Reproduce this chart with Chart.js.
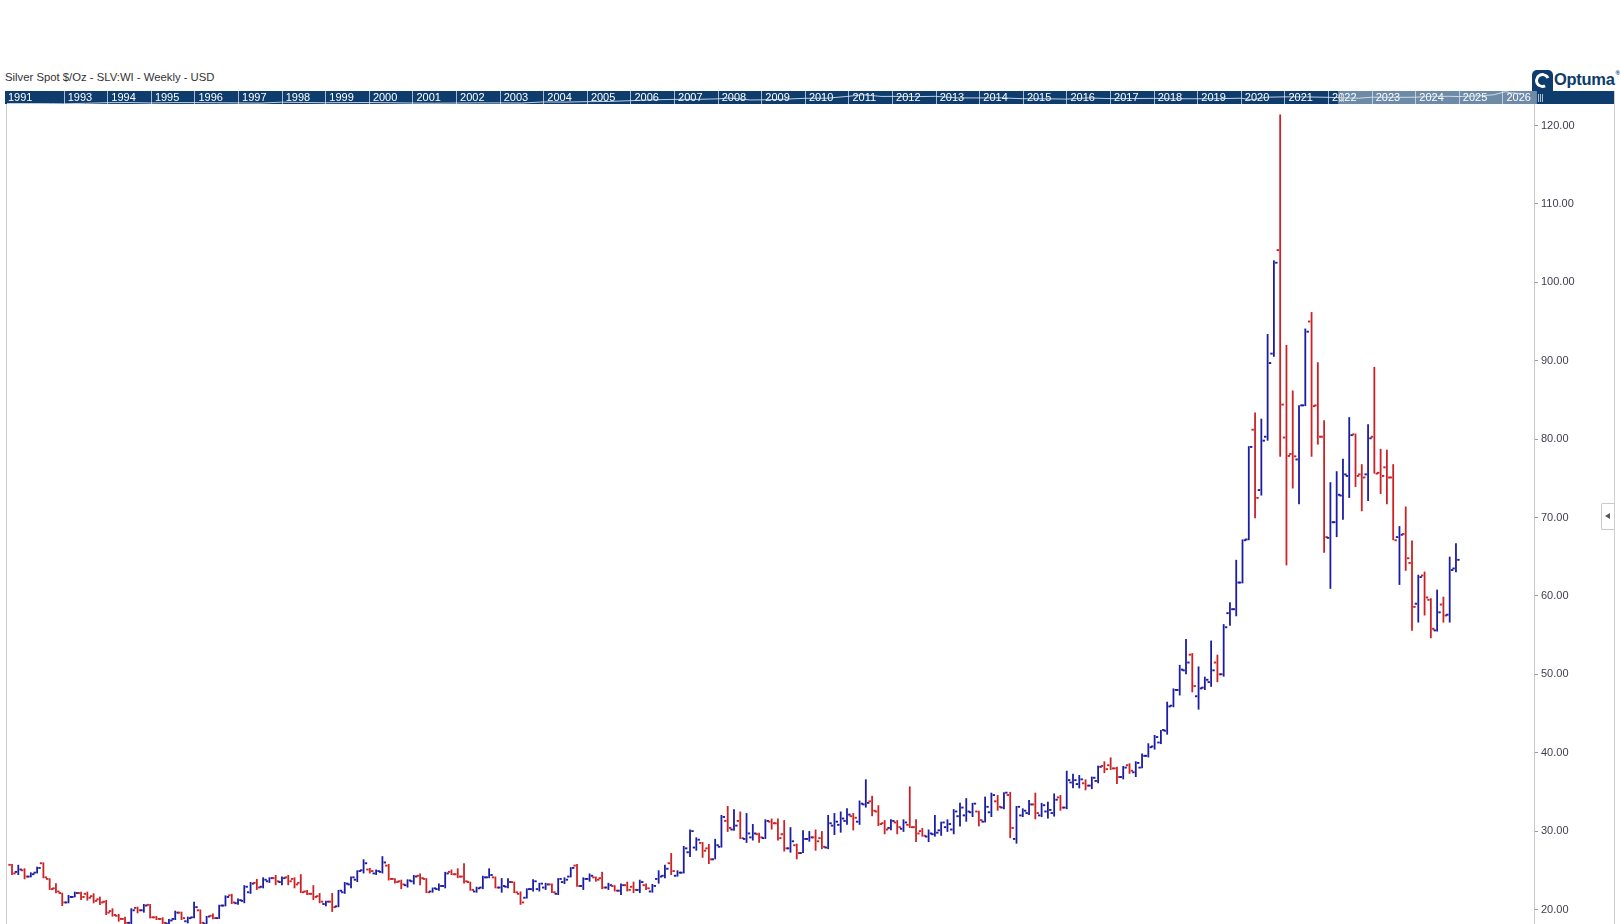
<!DOCTYPE html>
<html>
<head>
<meta charset="utf-8">
<script src="https://cdn.jsdelivr.net/npm/chart.js@4.4.1/dist/chart.umd.min.js"></script>
<style>
html,body{margin:0;padding:0;background:#fff;}
body{width:1620px;height:924px;position:relative;overflow:hidden;font-family:"Liberation Sans",Arial,sans-serif;}
#title{position:absolute;left:5px;top:70px;font-size:11.3px;line-height:14px;color:#333;white-space:nowrap;}
#navWrap{position:absolute;left:5px;top:91px;width:1609px;height:13px;}
#mainWrap{position:absolute;left:6px;top:104px;width:1594px;height:820px;}
#leftLine{position:absolute;left:6px;top:104px;width:1px;height:820px;background:#cfcfcf;}
#rightLine{position:absolute;left:1614px;top:91px;width:1px;height:833px;background:#cfcfcf;}
#btn{position:absolute;left:1601px;top:503px;width:12px;height:25px;border:1px solid #c9c9c9;border-right:none;background:#fff;border-radius:2px 0 0 2px;}
#btn:after{content:"";position:absolute;left:3px;top:9px;border-top:3.5px solid transparent;border-bottom:3.5px solid transparent;border-right:5px solid #555;}
#logoIcon{position:absolute;left:1532px;top:70px;width:21px;height:21px;background:#0d3c6d;border-radius:5px 5px 0 0;}
#logoIcon .ring{position:absolute;left:3px;top:3px;width:9px;height:9px;border:3px solid #fff;border-radius:50%;border-top-color:#fff;border-right-color:transparent;transform:rotate(20deg);}
#logoText{position:absolute;left:1554px;top:70px;font-size:16.5px;font-weight:bold;color:#0d3c6d;letter-spacing:-0.3px;}
#logoText sup{font-size:6px;vertical-align:top;margin-left:1px;}
</style>
</head>
<body>
<div id="title">Silver Spot $/Oz - SLV:WI - Weekly - USD</div>
<div id="logoIcon"><div class="ring"></div></div>
<div id="logoText">Optuma<sup>®</sup></div>
<div id="navWrap"><canvas id="nav" width="1609" height="13"></canvas></div>
<div id="leftLine"></div>
<div id="mainWrap"><canvas id="main" width="1594" height="820"></canvas></div>
<div id="rightLine"></div>
<div id="btn"></div>
<script>
// ---- Weekly OHLC values ----
const opens = [
25.7,24.8,25.0,24.2,24.7,25.9,23.9,22.7,22.1,20.9,
21.6,22.1,22.0,21.7,21.3,21.0,19.8,19.2,18.8,18.3,
20.2,19.9,20.6,19.0,18.8,18.2,18.8,19.6,18.5,19.0,
19.9,18.2,19.2,18.9,20.5,21.8,20.8,21.1,22.2,23.4,
22.9,23.6,24.0,23.5,24.1,23.9,23.4,22.3,22.0,21.7,
20.7,21.0,20.4,22.2,23.2,23.8,25.0,25.1,24.6,24.8,
25.6,23.9,23.6,23.1,23.6,24.3,23.9,22.3,22.6,23.0,
24.8,24.5,24.2,23.5,22.3,22.8,24.1,24.1,22.8,22.9,
23.5,22.0,21.5,22.6,22.6,22.8,23.2,22.0,23.5,24.2,
25.6,23.0,23.9,24.1,24.0,22.8,23.0,22.4,23.1,22.9,
22.5,23.1,22.3,23.9,24.3,25.9,24.3,24.7,27.3,27.9,
28.5,27.8,26.4,28.0,31.3,30.2,31.3,29.0,29.2,29.6,
29.1,31.2,31.0,29.6,27.8,28.2,27.2,29.0,29.2,29.1,
27.9,30.7,30.8,31.3,31.9,31.2,33.4,33.8,32.5,31.0,
30.4,31.1,30.3,30.8,30.5,30.0,29.3,29.6,30.1,30.5,
30.2,31.9,32.0,32.4,32.5,31.2,32.4,33.8,33.0,34.6,
29.0,32.0,32.3,33.4,32.0,32.5,32.3,34.3,33.0,36.2,
36.0,36.1,35.8,36.4,38.3,38.4,38.0,36.9,38.4,37.5,
38.1,39.6,40.8,41.3,42.8,46.0,48.0,50.5,52.5,47.2,
48.3,49.0,51.5,50.0,57.8,58.3,61.7,67.2,81.2,73.5,
80.3,90.9,104.1,80.2,78.1,77.4,84.3,95.0,84.3,80.3,
67.4,69.4,72.8,75.3,80.6,75.5,75.5,80.3,75.7,76.4,
75.1,67.5,67.9,64.2,59.0,62.6,59.5,55.6,58.9,57.6,
63.5];
const highs = [
25.8,25.7,25.25,24.74,25.46,26.0,23.98,23.34,22.15,21.85,
22.27,22.27,22.27,22.06,21.64,21.21,20.15,19.43,19.09,20.15,
20.36,20.7,20.7,19.17,19.0,18.8,19.85,19.72,19.09,21.0,
20.0,19.17,19.5,20.6,21.8,22.0,21.4,23.1,23.5,23.9,
24.1,24.1,24.4,24.2,24.4,24.1,24.5,22.5,23.1,22.1,
21.1,22.1,22.5,23.5,24.2,25.0,26.4,25.3,25.1,26.8,
25.8,24.0,23.8,23.85,24.4,24.6,24.0,22.8,23.3,24.8,
25.1,25.25,25.9,23.55,22.9,24.3,25.25,24.2,24.0,24.0,
23.55,22.3,22.7,23.85,23.4,23.4,23.3,24.0,24.1,25.4,
25.8,24.1,24.6,24.2,24.8,23.4,23.1,23.3,23.55,23.55,
23.8,23.3,23.25,25.0,25.7,27.2,25.0,28.1,30.2,29.2,
28.6,28.35,29.0,32.05,33.2,32.8,32.5,32.3,30.9,29.8,
31.5,31.6,31.6,31.4,30.5,28.4,30.1,30.0,30.2,30.0,
32.05,32.3,32.5,32.9,32.3,33.9,36.6,34.5,33.3,31.4,
31.5,31.4,31.5,35.7,31.5,30.4,30.2,32.05,31.2,31.5,
32.8,33.6,34.2,33.6,32.6,34.4,34.9,34.6,34.95,35.0,
33.2,32.9,33.97,34.9,33.6,33.75,34.8,34.6,37.7,37.3,
37.15,36.6,36.95,38.35,38.9,39.4,38.2,38.3,38.65,38.9,
39.9,41.2,42.26,42.9,46.5,48.2,51.2,54.5,52.7,51.0,
49.7,54.3,52.5,56.4,59.2,64.6,67.2,79.1,83.4,82.6,
93.4,102.8,121.4,92.0,86.2,84.3,94.1,96.2,89.8,82.4,
74.5,75.9,77.5,82.8,80.7,76.8,81.9,89.2,78.75,78.65,
76.8,68.9,71.4,67.06,62.7,63.1,59.7,60.8,59.9,65.0,
66.7];
const lows = [
24.4,24.4,23.85,24.1,24.6,23.98,22.49,22.06,20.45,20.79,
21.55,21.21,21.13,20.79,20.57,19.3,19.09,18.45,17.9,17.6,
19.51,19.6,18.87,18.66,18.0,17.9,18.66,18.66,18.23,18.87,
17.8,17.9,18.75,18.8,20.4,20.7,20.6,20.8,22.0,22.5,
22.7,23.4,23.1,23.1,23.1,22.7,22.1,21.85,21.2,20.8,
20.4,19.7,20.3,22.0,22.7,23.5,24.6,24.6,24.4,24.6,
23.7,23.3,22.6,22.8,23.2,23.1,22.1,22.15,22.4,22.7,
24.4,24.0,23.3,22.4,22.15,22.6,24.0,22.7,22.15,22.7,
22.1,20.6,21.4,22.3,22.3,22.5,22.1,21.85,23.25,24.1,
22.9,22.5,23.55,23.55,22.6,22.5,22.3,21.85,22.3,22.1,
22.1,22.5,22.15,23.3,24.0,24.4,24.2,24.6,26.7,27.5,
26.6,25.8,26.4,27.9,29.9,30.05,29.0,28.5,28.8,28.5,
29.0,30.2,28.8,27.4,27.25,26.4,27.2,28.65,27.5,27.7,
27.7,29.5,29.8,30.8,30.1,30.8,33.0,31.9,30.65,29.6,
30.1,29.6,29.9,30.4,28.6,29.3,28.6,29.3,29.4,29.9,
29.6,30.6,31.2,31.8,30.6,31.1,31.8,32.6,32.8,29.1,
28.4,31.8,32.05,31.5,31.8,31.6,31.85,32.6,32.8,35.45,
35.45,35.2,35.35,36.1,37.4,37.8,36.0,36.6,37.3,36.9,
38.0,39.4,40.4,41.1,42.3,45.8,47.3,50.0,47.7,45.5,
48.0,48.4,49.0,49.7,56.2,57.4,61.6,67.1,69.9,72.8,
79.8,90.5,77.75,63.9,73.7,71.7,84.2,77.75,79.3,65.5,
60.9,67.5,69.7,72.5,73.9,70.8,72.1,75.6,73.0,71.7,
67.1,61.4,63.2,55.55,56.6,57.5,54.6,55.45,56.6,56.6,
63.0];
const closes = [
24.6,25.1,24.2,24.5,25.3,24.1,22.6,22.3,20.9,21.6,
22.1,21.6,21.5,21.1,20.9,19.6,19.3,18.8,18.3,19.9,
19.9,20.5,19.0,18.8,18.3,18.6,19.6,18.9,18.9,20.3,
18.3,19.1,18.9,20.5,21.6,20.9,21.2,22.9,23.3,22.8,
23.8,24.0,23.6,24.0,23.6,23.2,22.2,22.0,21.6,21.0,
21.0,20.3,22.4,23.3,24.1,24.9,25.9,24.9,24.9,26.0,
23.9,23.5,23.2,23.7,24.2,24.0,22.2,22.7,23.0,24.6,
24.5,24.2,23.6,22.5,22.7,24.1,24.4,22.8,23.0,23.5,
22.2,20.9,22.6,23.6,23.3,23.2,22.2,23.9,23.8,25.3,
23.0,23.9,24.3,23.8,22.8,23.1,22.4,23.1,22.5,22.5,
23.5,22.7,23.0,24.2,25.2,24.9,24.7,27.8,30.0,28.9,
27.5,26.4,28.2,31.8,30.4,30.7,29.1,29.7,29.7,29.2,
31.3,31.0,29.1,27.8,28.7,27.2,29.0,29.2,28.7,28.0,
31.0,31.2,31.6,32.1,31.7,33.5,33.6,32.6,30.9,30.2,
31.3,30.5,31.1,30.5,29.7,29.4,29.7,29.8,31.1,30.9,
32.5,33.0,32.5,33.5,31.4,33.1,34.6,33.1,34.9,30.4,
33.1,32.6,33.4,32.3,33.3,32.7,34.0,33.0,36.5,36.5,
36.6,35.8,36.8,38.2,37.9,38.0,36.9,38.1,37.7,38.7,
39.6,40.7,42.0,42.9,45.9,48.0,50.6,51.5,48.5,48.2,
49.3,50.5,50.0,56.0,58.3,61.7,67.1,79.0,72.5,79.8,
89.7,102.5,84.4,77.85,77.8,84.3,93.7,84.2,80.3,67.5,
69.4,72.9,75.5,80.5,75.3,75.1,80.1,75.6,75.3,75.1,
67.1,67.8,64.8,58.6,62.4,59.8,55.8,57.9,57.5,63.3,
64.6];
const weekIndex = opens.map((_, i) => i);   // category: week number in the view

// y-axis tick values
const yTicks = [20, 30, 40, 50, 60, 70, 80, 90, 100, 110, 120];

// ---- navigator (full history strip) ----
const navYears = [1991,1993,1994,1995,1996,1997,1998,1999,2000,2001,2002,2003,2004,2005,2006,2007,2008,2009,2010,2011,2012,2013,2014,2015,2016,2017,2018,2019,2020,2021,2022,2023,2024,2025,2026];
const navTimes  = [1991.7,1992.2,1992.7,1993.0,1993.5,1994.0,1994.5,1995.0,1995.5,1996.0,1996.5,1997.0,1997.5,1998.0,1998.5,1999.0,1999.5,2000.0,2000.5,2001.0,2001.5,2002.0,2002.5,2003.0,2003.5,2004.0,2004.5,2005.0,2005.5,2006.0,2006.5,2007.0,2007.5,2008.0,2008.25,2008.75,2009.0,2009.5,2010.0,2010.5,2011.0,2011.33,2011.75,2012.0,2012.5,2013.0,2013.5,2014.0,2014.5,2015.0,2015.5,2016.0,2016.5,2017.0,2017.5,2018.0,2018.5,2019.0,2019.5,2020.0,2020.25,2020.6,2021.0,2021.5,2022.0,2022.7,2023.0,2023.5,2024.0,2024.4,2024.8,2025.0,2025.5,2025.8,2026.07,2026.2,2026.5];
const navPrices = [4.0,4.0,3.9,3.7,4.3,5.1,5.3,4.7,5.2,5.2,5.0,4.8,4.5,5.9,5.4,5.0,5.2,5.3,5.0,4.6,4.4,4.6,4.8,4.8,4.6,6.3,6.0,6.8,7.2,9.0,11.5,12.9,13.0,15.0,19.0,11.0,11.3,13.5,17.6,18.0,30.9,48.0,30.0,30.4,28.0,30.9,19.5,19.6,20.0,15.6,15.5,14.0,19.5,16.2,16.5,17.2,15.5,15.5,16.0,18.0,12.0,24.0,26.5,26.0,23.3,18.0,23.9,23.0,23.8,31.0,31.0,29.0,36.0,48.0,115.0,80.0,65.0];
const navWindow = [2022.23, 2026.79];

// ---- styles ----
const UP = '#1c1ca4';
const DOWN = '#cc2226';
const TICK_HALF = 0.12;   // half height of open/close ticks in price units

const barColor = (ctx) => closes[ctx.dataIndex] >= opens[ctx.dataIndex] ? UP : DOWN;

const common = {
  backgroundColor: barColor,
  borderWidth: 0,
  inflateAmount: 0,
  grouped: true
};

new Chart(document.getElementById('main').getContext('2d'), {
  type: 'bar',
  data: {
    datasets: [
      Object.assign({ label: 'Open', barThickness: 2.4,
        data: weekIndex.map(i => ({ x: i, y: [opens[i] - TICK_HALF, opens[i] + TICK_HALF] })) }, common),
      Object.assign({ label: 'High-Low', barThickness: 1.8,
        data: weekIndex.map(i => ({ x: i, y: [lows[i], highs[i]] })) }, common),
      Object.assign({ label: 'Close', barThickness: 2.4,
        data: weekIndex.map(i => ({ x: i, y: [closes[i] - TICK_HALF, closes[i] + TICK_HALF] })) }, common)
    ]
  },
  options: {
    responsive: false,
    animation: false,
    events: [],
    layout: { padding: 0, autoPadding: false },
    plugins: { legend: { display: false }, tooltip: { enabled: false } },
    scales: {
      x: {
        type: 'linear', display: false, bounds: 'data', offset: false,
        min: -0.956, max: 242.43,
        ticks: { includeBounds: false }, grid: { display: false }
      },
      y: {
        position: 'right', bounds: 'data', min: 18.15, max: 122.74,
        afterFit(s) { s.width = 66; s.paddingTop = 0; s.paddingBottom = 0; },
        afterBuildTicks(s) { s.ticks = yTicks.map(v => ({ value: v })); },
        border: { display: true, color: '#c8c8c8', width: 1 },
        grid: { drawOnChartArea: false, drawTicks: true, tickLength: 4, color: '#9a9a9a' },
        ticks: {
          padding: 3, color: '#3d3d50',
          font: { family: 'Liberation Sans', size: 11 },
          callback: v => Number(v).toFixed(2)
        }
      }
    }
  }
});

// navigator strip
const navPlugin = {
  id: 'navDecor',
  beforeDatasetsDraw(chart) {
    const ctx = chart.ctx, xs = chart.scales.x;
    const W = chart.width, H = chart.height;
    ctx.save();
    ctx.fillStyle = '#0d3c6d';
    ctx.fillRect(0, 0, W, H);
    const s0 = xs.getPixelForValue(navWindow[0]), s1 = xs.getPixelForValue(navWindow[1]);
    ctx.fillStyle = 'rgba(255,255,255,0.40)';
    ctx.fillRect(s0, 0, s1 - s0, H);
    ctx.font = '11px "Liberation Sans"';
    ctx.textBaseline = 'middle';
    navYears.forEach((y) => {
      let px = xs.getPixelForValue(y);
      if (px < 0) { px = -1; }
      else {
        ctx.fillStyle = 'rgba(220,228,240,0.75)';
        ctx.fillRect(Math.round(px), 0, 1, H);
      }
      ctx.fillStyle = '#ffffff';
      ctx.fillText(String(y), px + 4, H / 2 + 0.5);
    });
    ctx.restore();
  },
  afterDatasetsDraw(chart) {
    const ctx = chart.ctx, xs = chart.scales.x, H = chart.height;
    ctx.save();
    ctx.fillStyle = 'rgba(200,205,212,0.9)';
    navWindow.forEach((t) => {
      const px = Math.round(xs.getPixelForValue(t));
      for (let k = 0; k < 3; k++) ctx.fillRect(px + 1 + k * 2, 3, 1, H - 5);
    });
    ctx.restore();
  }
};

new Chart(document.getElementById('nav').getContext('2d'), {
  type: 'line',
  data: { datasets: [{ data: navTimes.map((t, i) => ({ x: t, y: navPrices[i] })),
    borderColor: 'rgba(225,232,242,0.85)', borderWidth: 1, pointRadius: 0, tension: 0 }] },
  options: {
    responsive: false, animation: false, events: [],
    layout: { padding: 0, autoPadding: false },
    plugins: { legend: { display: false }, tooltip: { enabled: false } },
    scales: {
      x: { type: 'linear', display: false, bounds: 'data', min: 1991.654, max: 2028.558 },
      y: { type: 'logarithmic', display: false, min: 3.5, max: 140 }
    }
  },
  plugins: [navPlugin]
});
</script>
</body>
</html>
